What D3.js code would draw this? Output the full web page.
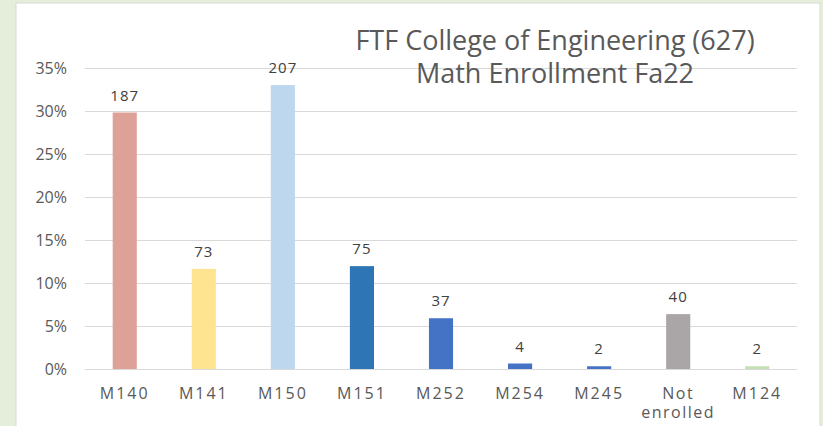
<!DOCTYPE html>
<html>
<head>
<meta charset="utf-8">
<script src="https://cdn.jsdelivr.net/npm/d3@7"></script>
<style>
  body { margin: 0; background: #e4eedb; }
  svg { display: block; }
</style>
</head>
<body>
<svg id="chart" width="823" height="426"></svg>
<script>
// enrollment counts, out of 627 first-time freshmen
var categories = ['M140', 'M141', 'M150', 'M151', 'M252', 'M254', 'M245', 'Not enrolled', 'M124'];
var counts = [187, 73, 207, 75, 37, 4, 2, 40, 2];
var total = 627;
var colors = ['#dea197', '#fee391', '#bdd7ee', '#2e75b6', '#4472c4', '#4472c4', '#4472c4', '#aaa6a7', '#c5e0b4'];
var tickValues = [0, 0.05, 0.10, 0.15, 0.20, 0.25, 0.30, 0.35];
var titleLines = ['FTF College of Engineering (627)', 'Math Enrollment Fa22'];

document.addEventListener('DOMContentLoaded', function () {
    drawBarChart();
});

function drawBarChart() {
    const svg = d3.select('#chart');
    const font = '"Open Sans", "Noto Sans", sans-serif';

    // white chart panel on the green page
    svg.append('rect')
        .attr('x', 16).attr('y', 3)
        .attr('width', 804).attr('height', 430)
        .attr('fill', '#ffffff')
        .attr('stroke', '#d9d9d9');

    const margin = { top: 68, bottom: 57, left: 85, right: 26 };
    const width = 823, height = 426;

    var data = categories.map(function (c, i) {
        return { key: c, count: counts[i], share: counts[i] / total, color: colors[i] };
    });

    var x = d3.scaleBand()
        .domain(categories)
        .range([margin.left, width - margin.right])
        .paddingInner(0.695)
        .paddingOuter(0.35);

    var y = d3.scaleLinear()
        .domain([0, 0.35])
        .range([height - margin.bottom, margin.top]);

    // gridlines + y labels
    var yAxis = d3.axisLeft(y)
        .tickValues(tickValues)
        .tickSize(-(width - margin.left - margin.right))
        .tickPadding(18)
        .tickFormat(d3.format('.0%'));

    var gy = svg.append('g')
        .attr('transform', `translate(${margin.left},0)`)
        .call(yAxis);
    gy.select('.domain').remove();
    gy.selectAll('line').attr('stroke', '#d9d9d9').attr('stroke-width', 1);
    gy.selectAll('text')
        .attr('fill', '#595959')
        .style('font-family', font)
        .style('font-size', '16px');

    // title
    svg.append('g').selectAll('text')
        .data(titleLines)
        .enter()
        .append('text')
        .attr('x', 555)
        .attr('y', function (d, i) { return 50 + i * 33; })
        .attr('text-anchor', 'middle')
        .attr('fill', '#595959')
        .style('font-family', font)
        .style('font-size', '27px')
        .text(function (d) { return d; });

    // bars
    svg.append('g').selectAll('rect')
        .data(data)
        .enter()
        .append('rect')
        .attr('x', function (d) { return x(d.key); })
        .attr('y', function (d) { return y(d.share); })
        .attr('width', x.bandwidth())
        .attr('height', function (d) { return y(0) - y(d.share); })
        .attr('fill', function (d) { return d.color; });

    // count labels
    svg.append('g').selectAll('text')
        .data(data)
        .enter()
        .append('text')
        .attr('x', function (d) { return x(d.key) + x.bandwidth() / 2; })
        .attr('y', function (d) { return y(d.share) - 12; })
        .attr('text-anchor', 'middle')
        .attr('fill', '#404040')
        .style('font-family', font)
        .style('font-size', '15px')
        .style('letter-spacing', '1px')
        .text(function (d) { return d.count; });

    // category labels, wrapped on space for "Not enrolled"
    var gx = svg.append('g');
    data.forEach(function (d) {
        var words = d.key.indexOf('M') === 0 ? [d.key] : d.key.split(' ');
        var t = gx.append('text')
            .attr('x', x(d.key) + x.bandwidth() / 2)
            .attr('y', 399)
            .attr('text-anchor', 'middle')
            .attr('fill', '#595959')
            .style('font-family', font)
            .style('font-size', '16px')
            .style('letter-spacing', words.length > 1 ? '1.5px' : '2px');
        words.forEach(function (w, j) {
            t.append('tspan')
                .attr('x', x(d.key) + x.bandwidth() / 2)
                .attr('dy', j === 0 ? 0 : 19)
                .text(w);
        });
    });
}
</script>
</body>
</html>
